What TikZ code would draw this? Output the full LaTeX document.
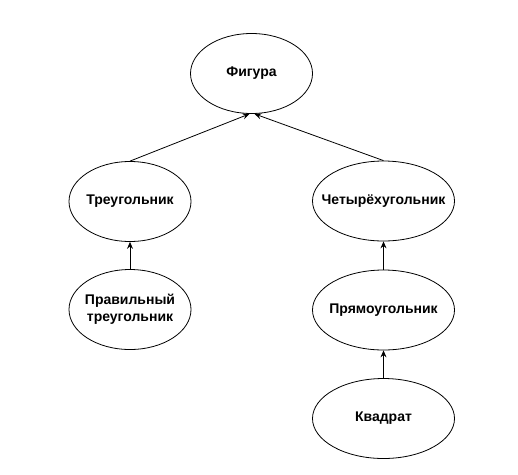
\documentclass[tikz,border=0pt]{standalone}
\usepackage{fontspec}
\setmainfont{Liberation Sans}
\usetikzlibrary{shapes.geometric}
\usetikzlibrary{arrows.meta}

\tikzset{
  shape class/.style={draw, ellipse, inner xsep=-14pt, inner ysep=0pt, minimum width=122pt,
    minimum height=80pt, align=center, font=\fontsize{14}{17}\selectfont\bfseries},
  wide class/.style={shape class, minimum width=142pt},
  inherit/.style={-{Stealth[length=7pt, width=6pt, inset=2.5pt]}, line width=0.8pt}
}

\begin{document}
\begin{tikzpicture}[x=1pt, y=-1pt, line width=0.8pt]
      \useasboundingbox (0, 0) rectangle (518, 474);
      \node[shape class] (figura) at (251.5, 73.5) {Фигура};
      \node[shape class] (tri) at (130, 201.5) {Треугольник};
      \node[shape class] (regtri) at (130, 309.5) {Правильный\\треугольник};
      \node[wide class] (quad) at (383.5, 201) {Четырёхугольник};
      \node[wide class] (rect) at (383.5, 310) {Прямоугольник};
      \node[wide class] (square) at (383.5, 418.5) {Квадрат};
      \draw[inherit] (tri.north) -- ([xshift=-2pt]figura.south);
      \draw[inherit] (quad.north) -- ([xshift=3pt]figura.south);
      \draw[inherit] (regtri) -- (tri);
      \draw[inherit] (rect) -- (quad);
      \draw[inherit] (square) -- (rect);
    \end{tikzpicture}
\end{document}
